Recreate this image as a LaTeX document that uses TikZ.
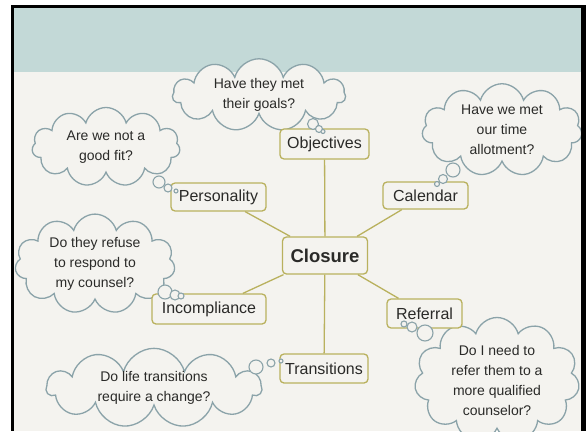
\documentclass[tikz,border=0pt]{standalone}
\usepackage{fontspec}
\setmainfont{Liberation Sans}
\usetikzlibrary{shapes.symbols}
\definecolor{bandcol}{HTML}{C3D9D7}
\definecolor{bgcol}{HTML}{F4F3EF}
\definecolor{boxcol}{HTML}{B9B15E}
\definecolor{cloudcol}{HTML}{8BA3A9}
\definecolor{txtcol}{HTML}{2A2A28}
\begin{document}
\begin{tikzpicture}[x=1pt,y=-1pt,
  topic/.style={draw=boxcol, line width=1.3pt, rounded corners=4pt, fill=bgcol, text=txtcol,
    font=\fontsize{16}{19}\selectfont, inner sep=0pt},
  hub/.style={topic, font=\fontsize{18.5}{22}\bfseries},
  thought/.style={cloud, cloud puffs=11, cloud ignores aspect, draw=cloudcol, line width=1.3pt,
    fill=bgcol, text=txtcol, align=center, font=\fontsize{14}{20}\selectfont, inner sep=0pt},
  bubble/.style={circle, draw=cloudcol, line width=1.1pt, fill=bgcol, inner sep=0pt},
  link/.style={draw=boxcol, line width=1.3pt}]
\useasboundingbox (0,0) rectangle (586,431);
\begin{scope}
\clip (0,0) rectangle (586,431);
\fill[white] (0,0) rectangle (586,431);
\fill[bgcol] (14,8) rectangle (581,431);
\fill[bandcol] (14,8) rectangle (581,72);
% clouds
\node[thought, minimum width=173pt, minimum height=70pt] (cobj) at (259,95) {Have they met\\their goals?};
\node[thought, minimum width=160pt, minimum height=84pt] (ccal) at (502,130) {Have we met\\our time\\allotment?};
\node[thought, minimum width=148pt, minimum height=79pt] (cper) at (106,147) {Are we not a\\good fit?};
\node[thought, minimum width=160pt, minimum height=95pt] (cinc) at (95,264) {Do they refuse\\to respond to\\my counsel?};
\node[thought, minimum width=215pt, minimum height=77pt] (ctra) at (154,388) {Do life transitions\\require a change?};
\node[thought, minimum width=165pt, minimum height=125pt] (cref) at (497,380) {Do I need to\\refer them to a\\more qualified\\counselor?};
% topics
\node[hub, minimum width=85pt, minimum height=37pt] (clo) at (325,255.5) {Closure};
\node[topic, minimum width=89pt, minimum height=30pt] (obj) at (324.5,144) {Objectives};
\node[topic, minimum width=85pt, minimum height=27pt] (cal) at (425.5,195.5) {Calendar};
\node[topic, minimum width=95pt, minimum height=28pt] (per) at (218.5,197) {Personality};
\node[topic, minimum width=114pt, minimum height=30pt] (inc) at (209,309) {Incompliance};
\node[topic, minimum width=88pt, minimum height=29pt] (tra) at (324,368.5) {Transitions};
\node[topic, minimum width=75pt, minimum height=29pt] (ref) at (424.5,313.5) {Referral};
% links
\draw[link] (clo) -- (obj);
\draw[link] (clo) -- (cal);
\draw[link] (clo) -- (per);
\draw[link] (clo) -- (inc);
\draw[link] (clo) -- (tra);
\draw[link] (clo) -- (ref);
% thought bubbles
\node[bubble, minimum size=11pt] (ob1) at (313,124) {};
\node[bubble, minimum size=7pt] (ob2) at (319,129) {};
\node[bubble, minimum size=4pt] (ob3) at (323,131.5) {};
\node[bubble, minimum size=14pt] (ca1) at (453,170) {};
\node[bubble, minimum size=9pt] (ca2) at (443,179) {};
\node[bubble, minimum size=5pt] (ca3) at (437,184) {};
\node[bubble, minimum size=12pt] (pe1) at (159,182) {};
\node[bubble, minimum size=8pt] (pe2) at (168,188) {};
\node[bubble, minimum size=4pt] (pe3) at (176,191) {};
\node[bubble, minimum size=14pt] (in1) at (165,292) {};
\node[bubble, minimum size=10pt] (in2) at (175,295) {};
\node[bubble, minimum size=6pt] (in3) at (181,296) {};
\node[bubble, minimum size=14pt] (tr1) at (256,367) {};
\node[bubble, minimum size=8pt] (tr2) at (271,363) {};
\node[bubble, minimum size=4pt] (tr3) at (281,361) {};
\node[bubble, minimum size=6pt] (re1) at (404,324) {};
\node[bubble, minimum size=10pt] (re2) at (412,327) {};
\node[bubble, minimum size=16pt] (re3) at (425,333) {};
\end{scope}
% slide frame
\fill[black] (11,5) rectangle (14,431);
\fill[black] (11,5) rectangle (586,8);
\fill[black] (581,5) rectangle (586,431);
\end{tikzpicture}
\end{document}
